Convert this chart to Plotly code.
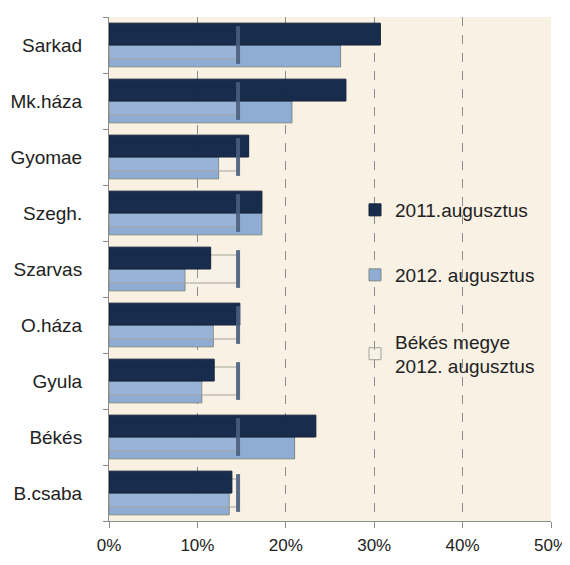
import plotly.graph_objects as go

categories = ["Sarkad", "Mk.háza", "Gyomae", "Szegh.", "Szarvas", "O.háza", "Gyula", "Békés", "B.csaba"]
v2011 = [0.307, 0.268, 0.158, 0.173, 0.115, 0.148, 0.119, 0.234, 0.139]
v2012 = [0.262, 0.207, 0.124, 0.173, 0.086, 0.118, 0.105, 0.210, 0.136]
megye2012 = [0.146] * 9
x_ticks = [0, 0.1, 0.2, 0.3, 0.4, 0.5]
x_ticktext = ["0%", "10%", "20%", "30%", "40%", "50%"]
series_names = ["2011.augusztus", "2012. augusztus", "Békés megye<br>2012. augusztus"]

pos = list(range(len(categories)))
FONT = "Liberation Sans, Arial, sans-serif"

# page body has an 8px margin; work in page pixels and shift
OFF = 8
W, H = 570 - OFF, 565 - 2 * OFF
PL, PR, PT, PB = 109 - OFF, 551 - OFF, 17 - OFF, 521 - OFF

fig = go.Figure()
fig.add_trace(go.Bar(
    y=pos, x=v2012, orientation="h", name=series_names[1],
    width=0.39, offset=0.0,
    marker=dict(color="#8fadd4", line=dict(color="#7d8a86", width=1)),
    legend="legend2",
))
fig.add_trace(go.Bar(
    y=pos, x=megye2012, orientation="h", name=series_names[2],
    width=0.5, offset=-0.25,
    marker=dict(color="rgba(255,255,255,0.08)", line=dict(color="#a3a39c", width=1)),
    legend="legend3",
))
fig.add_trace(go.Scatter(
    y=pos, x=megye2012, mode="markers", showlegend=False, hoverinfo="skip",
    marker=dict(symbol="line-ns", size=27,
                line=dict(color="rgba(74,94,126,0.9)", width=4)),
))
fig.add_trace(go.Bar(
    y=pos, x=v2011, orientation="h", name=series_names[0],
    width=0.39, offset=-0.39, opacity=0.96,
    marker=dict(color="#0f2548", line=dict(color="#0a1a33", width=1)),
    legend="legend",
))

legend_common = dict(
    xref="paper", yref="paper", xanchor="left", yanchor="middle",
    bgcolor="rgba(0,0,0,0)", borderwidth=0, itemwidth=30,
    font=dict(family=FONT, size=19, color="#222"),
)


def px_x(px):
    return (px - OFF - PL) / (PR - PL)


def px_y(py):
    return 1 - (py - OFF - PT) / (PB - PT)


fig.update_layout(
    width=W, height=H,
    margin=dict(l=PL, r=W - PR, t=PT, b=H - PB, autoexpand=False),
    paper_bgcolor="white",
    plot_bgcolor="#f8f1e4",
    barmode="overlay",
    legend=dict(x=px_x(355), y=px_y(210), **legend_common),
    legend2=dict(x=px_x(355), y=px_y(275), **legend_common),
    legend3=dict(x=px_x(355), y=px_y(354), **legend_common),
    xaxis=dict(
        range=[0, 0.5], tickvals=x_ticks, ticktext=x_ticktext,
        showgrid=True, gridcolor="#8c8c8c", griddash="dash", gridwidth=1,
        showline=True, linecolor="#8c8c8c", linewidth=1,
        ticks="outside", ticklen=6, tickcolor="#8c8c8c",
        ticklabelstandoff=3, ticklabeloverflow="allow",
        tickfont=dict(family=FONT, size=17, color="#222"),
        zeroline=False, fixedrange=True,
    ),
    yaxis=dict(
        range=[len(categories) - 0.5, -0.5],
        tickvals=pos, ticktext=categories,
        ticks="", showgrid=False, zeroline=False,
        showline=True, linecolor="#8c8c8c", linewidth=1,
        ticklabelstandoff=22,
        tickfont=dict(family=FONT, size=19, color="#222"),
        minor=dict(tickmode="array", tickvals=[i - 0.5 for i in range(len(categories) + 1)],
                   ticks="outside", ticklen=5, tickcolor="#8c8c8c", showgrid=False),
    ),
)

fig.write_html("out.html")
